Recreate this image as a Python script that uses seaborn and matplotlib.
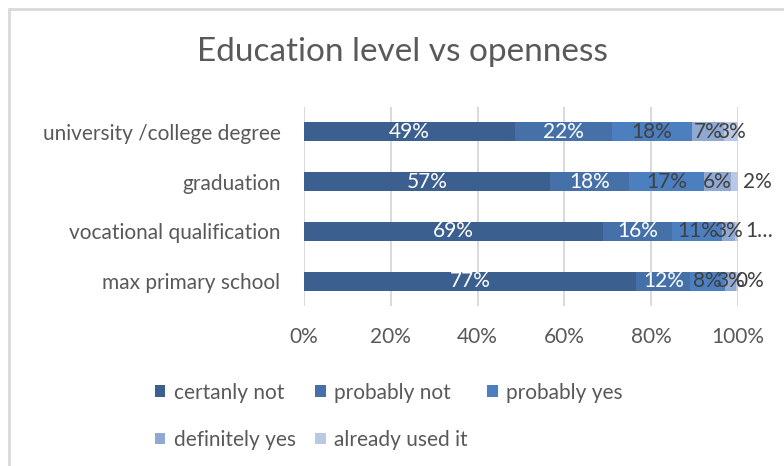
import numpy as np
import pandas as pd
import matplotlib
matplotlib.use("Agg")
import matplotlib.pyplot as plt
from matplotlib.patches import Patch
from matplotlib.lines import Line2D
import seaborn as sns

# Survey shares (%) per education level
levels = ["university /college degree", "graduation",
          "vocational qualification", "max primary school"]
answers = ["certanly not", "probably not", "probably yes",
           "definitely yes", "already used it"]
certanly_not = [48.6, 56.6, 68.8, 76.6]
probably_not = [22.4, 18.3, 16.1, 12.4]
probably_yes = [18.4, 17.2, 11.4, 7.9]
definitely_yes = [7.4, 6.2, 2.9, 2.7]
already_used = [3.2, 1.7, 0.8, 0.4]
x_ticks = [0, 20, 40, 60, 80, 100]

series = [certanly_not, probably_not, probably_yes, definitely_yes, already_used]
colors = ["#3B5F8E", "#4571A8", "#4C7FC0", "#8FA9D3", "#B9C8E4"]
label_colors = ["white", "white", "#404040", "#404040", "#404040"]

sns.set_theme(style="white")
plt.rcParams["font.family"] = ["Lato", "DejaVu Sans"]
text_grey = "#595959"
fs = 15

fig = plt.figure(figsize=(7.84, 4.66), dpi=100)
ax = fig.add_axes([304 / 784, 1 - 306 / 466, 434 / 784, 199 / 466])

vals = np.array(series)          # shape (5, 4)
cum = np.cumsum(vals, axis=0)

# stacked bars: draw cumulative totals from the outermost layer inwards
for i in range(len(answers) - 1, -1, -1):
    df = pd.DataFrame({"level": levels, "value": cum[i]})
    sns.barplot(data=df, x="value", y="level", orient="h", color=colors[i],
                saturation=1, width=0.38, ax=ax, zorder=2, linewidth=0)

# data labels
outside_pos = {1: 101.2, 2: 101.6, 3: 99.3}   # small last segments labelled past the bar
for i in range(len(answers)):
    for j in range(len(levels)):
        v = vals[i, j]
        txt = f"{round(v):.0f}%"
        start = cum[i, j] - v
        xc = start + v / 2
        ha = "center"
        if i == len(answers) - 1 and j in outside_pos:
            xc = outside_pos[j]
            ha = "left"
            if j == 2:
                txt = txt[0] + "…"
        ax.text(xc, j, txt, ha=ha, va="center", fontsize=fs,
                color=label_colors[i], zorder=5, clip_on=False)

ax.set_xlim(0, 100)
ax.set_ylim(3.5, -0.5)
ax.set_xticks(x_ticks)
ax.set_xticklabels([f"{t}%" for t in x_ticks])
ax.tick_params(axis="x", labelsize=fs, colors=text_grey, length=0, pad=15)
ax.tick_params(axis="y", labelsize=fs, colors=text_grey, length=0, pad=17)
ax.set_xlabel("")
ax.set_ylabel("")
ax.xaxis.grid(True, color="#D9D9D9", linewidth=1.4, zorder=0)
ax.set_axisbelow(True)
for s in ax.spines.values():
    s.set_visible(False)

fig.suptitle("Education level vs openness", x=402 / 784, y=1 - 52 / 466,
             va="center", fontsize=24, color=text_grey)

# legend in row-major order across three columns
handles = [Patch(facecolor=c, edgecolor="none") for c in colors]
order = [0, 3, 1, 4, 2]
fig.legend([handles[k] for k in order], [answers[k] for k in order],
           ncol=3, loc="upper left", bbox_to_anchor=(136 / 784, 1 - 364 / 466),
           frameon=False, fontsize=fs, labelcolor=text_grey,
           handlelength=0.5, handleheight=0.5, handletextpad=0.4,
           columnspacing=0.95, labelspacing=1.3)

# chart frame (top and left edges)
fig.add_artist(Line2D([9 / 784, 1], [1 - 9 / 466, 1 - 9 / 466],
                      transform=fig.transFigure, color="#D9D9D9", lw=2))
fig.add_artist(Line2D([9 / 784, 9 / 784], [0, 1 - 9 / 466],
                      transform=fig.transFigure, color="#D9D9D9", lw=2))

fig.savefig("out.png", dpi=100)
